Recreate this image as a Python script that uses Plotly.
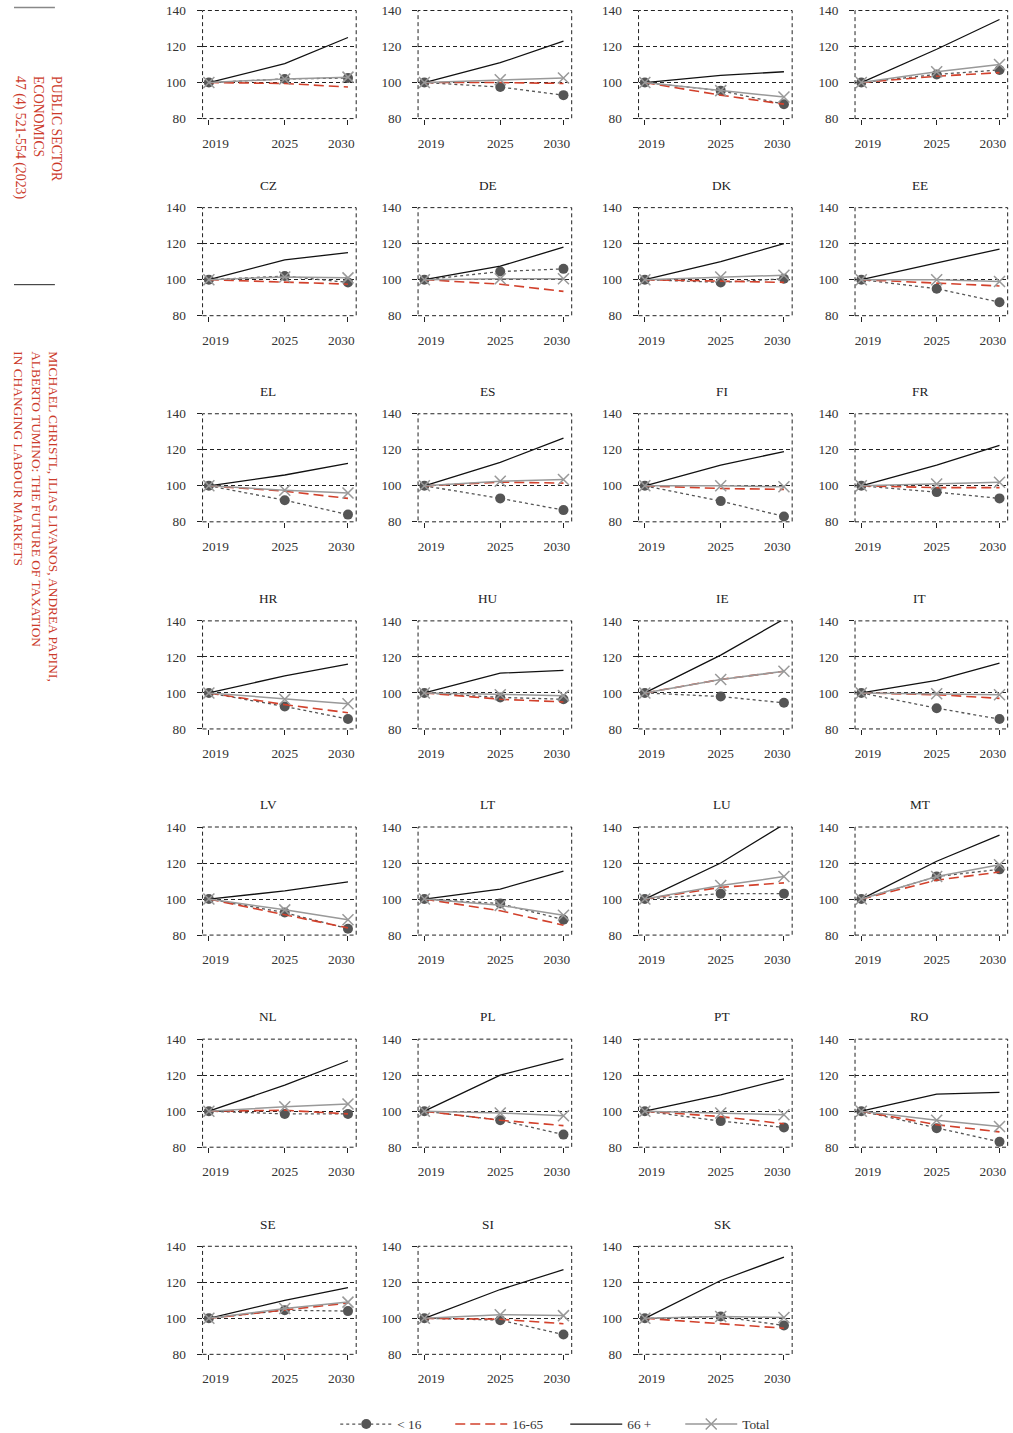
import plotly.graph_objects as go

countries = ["AT", "BE", "BG", "CY", "CZ", "DE", "DK", "EE", "EL", "ES", "FI", "FR",
             "HR", "HU", "IE", "IT", "LV", "LT", "LU", "MT", "NL", "PL", "PT", "RO",
             "SE", "SI", "SK"]
years = [2019, 2025, 2030]
year_labels = ["\u2002\u20022019", "2025", "2030\u2002\u2002"]
y_ticks = [80, 100, 120, 140]

under16 = [
    [100, 102, 102.5], [100, 97.5, 93], [100, 95.5, 88], [100, 104.5, 107],
    [100, 102, 98.5], [100, 104.5, 106], [100, 98.5, 100.5], [100, 95, 87.5],
    [100, 92, 84], [100, 93, 86.5], [100, 91.5, 83], [100, 96.5, 93],
    [100, 92.5, 85.5], [100, 97.5, 96.5], [100, 98, 94.5], [100, 91.5, 85.5],
    [100, 92.5, 83.5], [100, 97.5, 88.5], [100, 103, 103], [100, 112.5, 116.5],
    [100, 98.5, 98.5], [100, 95, 87], [100, 94.5, 91], [100, 90.5, 83],
    [100, 104.5, 104], [100, 99, 91], [100, 101, 96],
]
age16_65 = [
    [100, 99.5, 97.5], [100, 100, 99.5], [100, 93, 88], [100, 103.5, 105.5],
    [100, 98.5, 97.5], [100, 97.5, 93.5], [100, 99, 98.5], [100, 98, 96.5],
    [100, 97, 93], [100, 102, 101.5], [100, 98.5, 98], [100, 99, 99],
    [100, 93.5, 89], [100, 96.5, 95], [100, 107.5, 112], [100, 99, 97],
    [100, 91.5, 84], [100, 93.5, 85.5], [100, 106.5, 109], [100, 110.5, 115],
    [100, 100.5, 98.5], [100, 95, 92], [100, 97, 93], [100, 92.5, 88.5],
    [100, 104.5, 108.5], [100, 99.5, 97], [100, 97, 94.5],
]
age66plus = [
    [100, 110.5, 125], [100, 111, 123], [100, 104, 106], [100, 118.5, 135],
    [100, 111, 115], [100, 107.5, 118], [100, 110, 120], [100, 109.5, 117],
    [100, 106, 112.5], [100, 113, 126.5], [100, 111.5, 119], [100, 111.5, 122.5],
    [100, 109.5, 116], [100, 111, 112.5], [100, 121, 141], [100, 107, 116.5],
    [100, 104.5, 109.5], [100, 105.5, 115.5], [100, 120, 141.5], [100, 121, 135.5],
    [100, 114.5, 128], [100, 120, 129], [100, 109, 118], [100, 109.5, 110.5],
    [100, 110, 117], [100, 116, 127], [100, 121, 134],
]
total = [
    [100, 102, 103], [100, 101.5, 102.5], [100, 95.5, 92], [100, 106, 110],
    [100, 101.5, 101], [100, 100.5, 100.5], [100, 101.5, 102.5], [100, 100, 99],
    [100, 97.5, 96], [100, 102.5, 103.5], [100, 100, 99.5], [100, 101, 102],
    [100, 96.5, 94], [100, 99, 98.5], [100, 107.5, 112], [100, 99.5, 99],
    [100, 94, 88.5], [100, 96.5, 91], [100, 107.5, 112.5], [100, 112.5, 119],
    [100, 102.5, 104], [100, 99, 97.5], [100, 99, 98], [100, 95, 91.5],
    [100, 105.5, 109], [100, 102, 101.5], [100, 101, 100.5],
]

# figure size and mapping from target-picture pixels to figure pixels
W, H = 1028, 1445
OX, OY, SX, SY = 12.0, 6.5, 0.977, 0.989


def fx(xr):
    return (xr - OX) / SX / W


def fy(yr):
    return 1 - (yr - OY) / SY / H


SERIF = "Liberation Serif"
FS = 13.3
RED = "#d2412c"
TXT_RED = "#cc3a2a"

col_left = [201, 417, 638, 855]
col_right = [355, 571, 792, 1008]
row_top = [10, 207, 413, 620, 826, 1038, 1245]
panel_h = 108
title_x = [267, 487, 722, 920]

fig = go.Figure()
layout = dict(
    width=W, height=H,
    margin=dict(l=0, r=0, t=0, b=0),
    paper_bgcolor="white", plot_bgcolor="white",
    font=dict(family=SERIF, size=FS, color="#333"),
    showlegend=True,
)
shapes = []
annotations = []

series = [
    ("< 16", under16, dict(color="#555555", width=1.3, dash="3px,3px"),
     dict(symbol="circle", size=10, color="#555555"), "lines+markers"),
    ("16-65", age16_65, dict(color=RED, width=1.6, dash="10px,5px"), None, "lines"),
    ("66 +", age66plus, dict(color="#111111", width=1.3), None, "lines"),
    ("Total", total, dict(color="#999999", width=1.5),
     dict(symbol="x-thin-open", size=11, color="#999999", line=dict(color="#999999", width=1.5)),
     "lines+markers"),
]

for i, cc in enumerate(countries):
    r, c = divmod(i, 4)
    n = "" if i == 0 else str(i + 1)
    xa, ya = "x" + n, "y" + n
    top = row_top[r]
    bot = top + panel_h
    layout["xaxis" + n] = dict(
        domain=[fx(col_left[c]), fx(col_right[c])], anchor=ya,
        range=[2018.5, 2030.65], tickmode="array", tickvals=years, ticktext=year_labels,
        ticks="outside", ticklen=5, tickcolor="#222", tickwidth=1,
        showgrid=False, zeroline=False, showline=False,
        tickfont=dict(family=SERIF, size=FS, color="#333"), ticklabelstandoff=7,
        fixedrange=True,
    )
    layout["yaxis" + n] = dict(
        domain=[fy(bot), fy(top)], anchor=xa,
        range=[80, 140], tickmode="array", tickvals=y_ticks,
        ticks="outside", ticklen=5, tickcolor="#222", tickwidth=1,
        showgrid=True, gridcolor="#222", gridwidth=1, griddash="4px,3px",
        zeroline=False, showline=False,
        tickfont=dict(family=SERIF, size=FS, color="#333"), ticklabelstandoff=8,
        fixedrange=True,
    )
    shapes.append(dict(type="rect", xref=xa + " domain", yref=ya + " domain",
                       x0=0, x1=1, y0=0, y1=1,
                       line=dict(color="#222", width=1, dash="4px,3px"), layer="above"))
    if r > 0:
        annotations.append(dict(text=cc, x=fx(title_x[c]), xref="paper",
                                y=1, yref=ya + " domain", yshift=22.2,
                                xanchor="center", yanchor="middle", showarrow=False,
                                font=dict(family=SERIF, size=FS, color="#222")))
    for name, data, line, marker, mode in series:
        kw = dict(x=years, y=data[i], mode=mode, name=name, line=line,
                  xaxis=xa, yaxis=ya, legendgroup=name, showlegend=(i == 0),
                  cliponaxis=False)
        if marker:
            kw["marker"] = marker
        fig.add_trace(go.Scatter(**kw))

# side header text (rotated)
annotations.append(dict(
    text="PUBLIC SECTOR<br>ECONOMICS<br>47 (4) 521-554 (2023)",
    textangle=90, x=fx(8), xref="paper", y=fy(73), yref="paper",
    xanchor="left", yanchor="top", align="left", showarrow=False,
    font=dict(family=SERIF, size=13.8, color=TXT_RED)))
annotations.append(dict(
    text="MICHAEL CHRISTL, ILIAS LIVANOS, ANDREA PAPINI,<br>ALBERTO TUMINO: THE FUTURE OF TAXATION<br>IN CHANGING LABOUR MARKETS",
    textangle=90, x=fx(7), xref="paper", y=fy(348), yref="paper",
    xanchor="left", yanchor="top", align="left", showarrow=False,
    font=dict(family=SERIF, size=13.4, color=TXT_RED)))
shapes.append(dict(type="line", xref="paper", yref="paper", x0=fx(12), x1=fx(53),
                   y0=fy(7), y1=fy(7), line=dict(color="#888", width=1.5)))
shapes.append(dict(type="line", xref="paper", yref="paper", x0=fx(12), x1=fx(53),
                   y0=fy(284), y1=fy(284), line=dict(color="#222", width=1)))

layout["shapes"] = shapes
layout["annotations"] = annotations
layout["legend"] = dict(orientation="h", x=fx(334), xanchor="left", y=fy(1423),
                        yanchor="middle", itemwidth=52, entrywidth=48,
                        entrywidthmode="pixels",
                        font=dict(family=SERIF, size=FS, color="#333"),
                        bgcolor="rgba(0,0,0,0)", itemclick=False)
fig.update_layout(**layout)
fig.write_html("out.html")
